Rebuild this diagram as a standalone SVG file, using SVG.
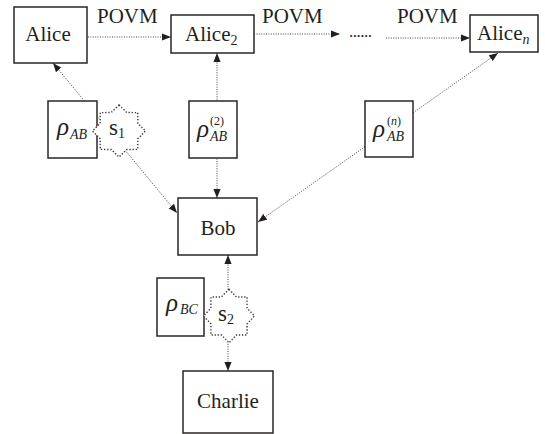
<svg xmlns="http://www.w3.org/2000/svg" width="545" height="434" viewBox="0 0 545 434">
<style>
.box{fill:#fff;stroke:#2b2626;stroke-width:1.5}
.star{fill:#fff;stroke:#3a3535;stroke-width:1.4;stroke-dasharray:1.3 1.8}
.con{fill:none;stroke:#4a4545;stroke-width:1;stroke-dasharray:1 1.4}
.t{font-family:"Liberation Serif","Times New Roman",serif;font-size:21px;fill:#231f20}
.m{text-anchor:middle}
.i{font-style:italic}
.rho{font-size:25px}
.sub{font-size:14px}
.sup{font-size:12px}
.s{font-size:23px}
.dots{font-size:17px;letter-spacing:-0.5px}
</style>
<defs>
<marker id="ah" viewBox="0 0 10 8" refX="10" refY="4" markerWidth="9" markerHeight="8" markerUnits="userSpaceOnUse" orient="auto-start-reverse">
<path d="M0,0 L10,4 L0,8 Z" fill="#231f20"/>
</marker>
<path id="starShape" d="M0,-26 L7.65,-18.48 L18.38,-18.38 L18.48,-7.65 L26,0 L18.48,7.65 L18.38,18.38 L7.65,18.48 L0,26 L-7.65,18.48 L-18.38,18.38 L-18.48,7.65 L-26,0 L-18.48,-7.65 L-18.38,-18.38 L-7.65,-18.48 Z"/>
</defs>
<g id="connectors">
<line class="con" x1="88" y1="37" x2="171" y2="37" marker-end="url(#ah)"/>
<line class="con" x1="254" y1="34" x2="340" y2="34" marker-end="url(#ah)"/>
<line class="con" x1="386" y1="38" x2="470" y2="38" marker-end="url(#ah)"/>
<line class="con" x1="53" y1="63" x2="177" y2="213" marker-start="url(#ah)" marker-end="url(#ah)"/>
<line class="con" x1="217" y1="53" x2="217" y2="198" marker-start="url(#ah)" marker-end="url(#ah)"/>
<line class="con" x1="258" y1="222" x2="498" y2="53" marker-start="url(#ah)" marker-end="url(#ah)"/>
<line class="con" x1="228" y1="255" x2="228" y2="371" marker-start="url(#ah)" marker-end="url(#ah)"/>
<text class="t" x="97" y="23">POVM</text>
<text class="t" x="262" y="23">POVM</text>
<text class="t" x="397" y="23">POVM</text>
<text class="t dots" x="349" y="37">......</text>
</g>
<g id="Alice">
<rect class="box" x="14" y="7" width="73" height="56"/>
<text class="t m" x="48" y="41">Alice</text>
</g>
<g id="Alice2">
<rect class="box" x="171" y="15" width="83" height="38"/>
<text class="t" x="185" y="41">Alice<tspan class="sub" dy="4">2</tspan></text>
</g>
<g id="Alicen">
<rect class="box" x="470" y="15" width="68" height="37"/>
<text class="t" x="477" y="40">Alice<tspan class="sub i" dy="4">n</tspan></text>
</g>
<g id="rhoAB">
<rect class="box" x="48" y="101" width="49" height="57"/>
<text class="t i rho" x="57" y="135">ρ</text>
<text class="t i sub" x="70" y="139">AB</text>
</g>
<g id="s1">
<use href="#starShape" class="star" transform="translate(119,131) scale(1.02,1)"/>
<text class="t m s" x="117" y="135">s<tspan class="sub" dy="3">1</tspan></text>
</g>
<g id="rho2">
<rect class="box" x="189" y="101" width="48" height="57"/>
<text class="t i rho" x="197" y="137">ρ</text>
<text class="t sup" x="210" y="125">(2)</text>
<text class="t i sub" x="210" y="141">AB</text>
</g>
<g id="rhon">
<rect class="box" x="365" y="101" width="48" height="56"/>
<text class="t i rho" x="373" y="137">ρ</text>
<text class="t sup" x="387" y="125">(<tspan class="i">n</tspan>)</text>
<text class="t i sub" x="387" y="141">AB</text>
</g>
<g id="Bob">
<rect class="box" x="178" y="198" width="79" height="57"/>
<text class="t m" x="218" y="235">Bob</text>
</g>
<g id="rhoBC">
<rect class="box" x="157" y="278" width="47" height="58"/>
<text class="t i rho" x="166" y="311">ρ</text>
<text class="t i sub" x="180" y="314">BC</text>
</g>
<g id="s2">
<use href="#starShape" class="star" transform="translate(229,316) scale(0.98,1.03)"/>
<text class="t m s" x="226" y="321">s<tspan class="sub" dy="3">2</tspan></text>
</g>
<g id="Charlie">
<rect class="box" x="183" y="371" width="90" height="62"/>
<text class="t m" x="228" y="408">Charlie</text>
</g>
</svg>
